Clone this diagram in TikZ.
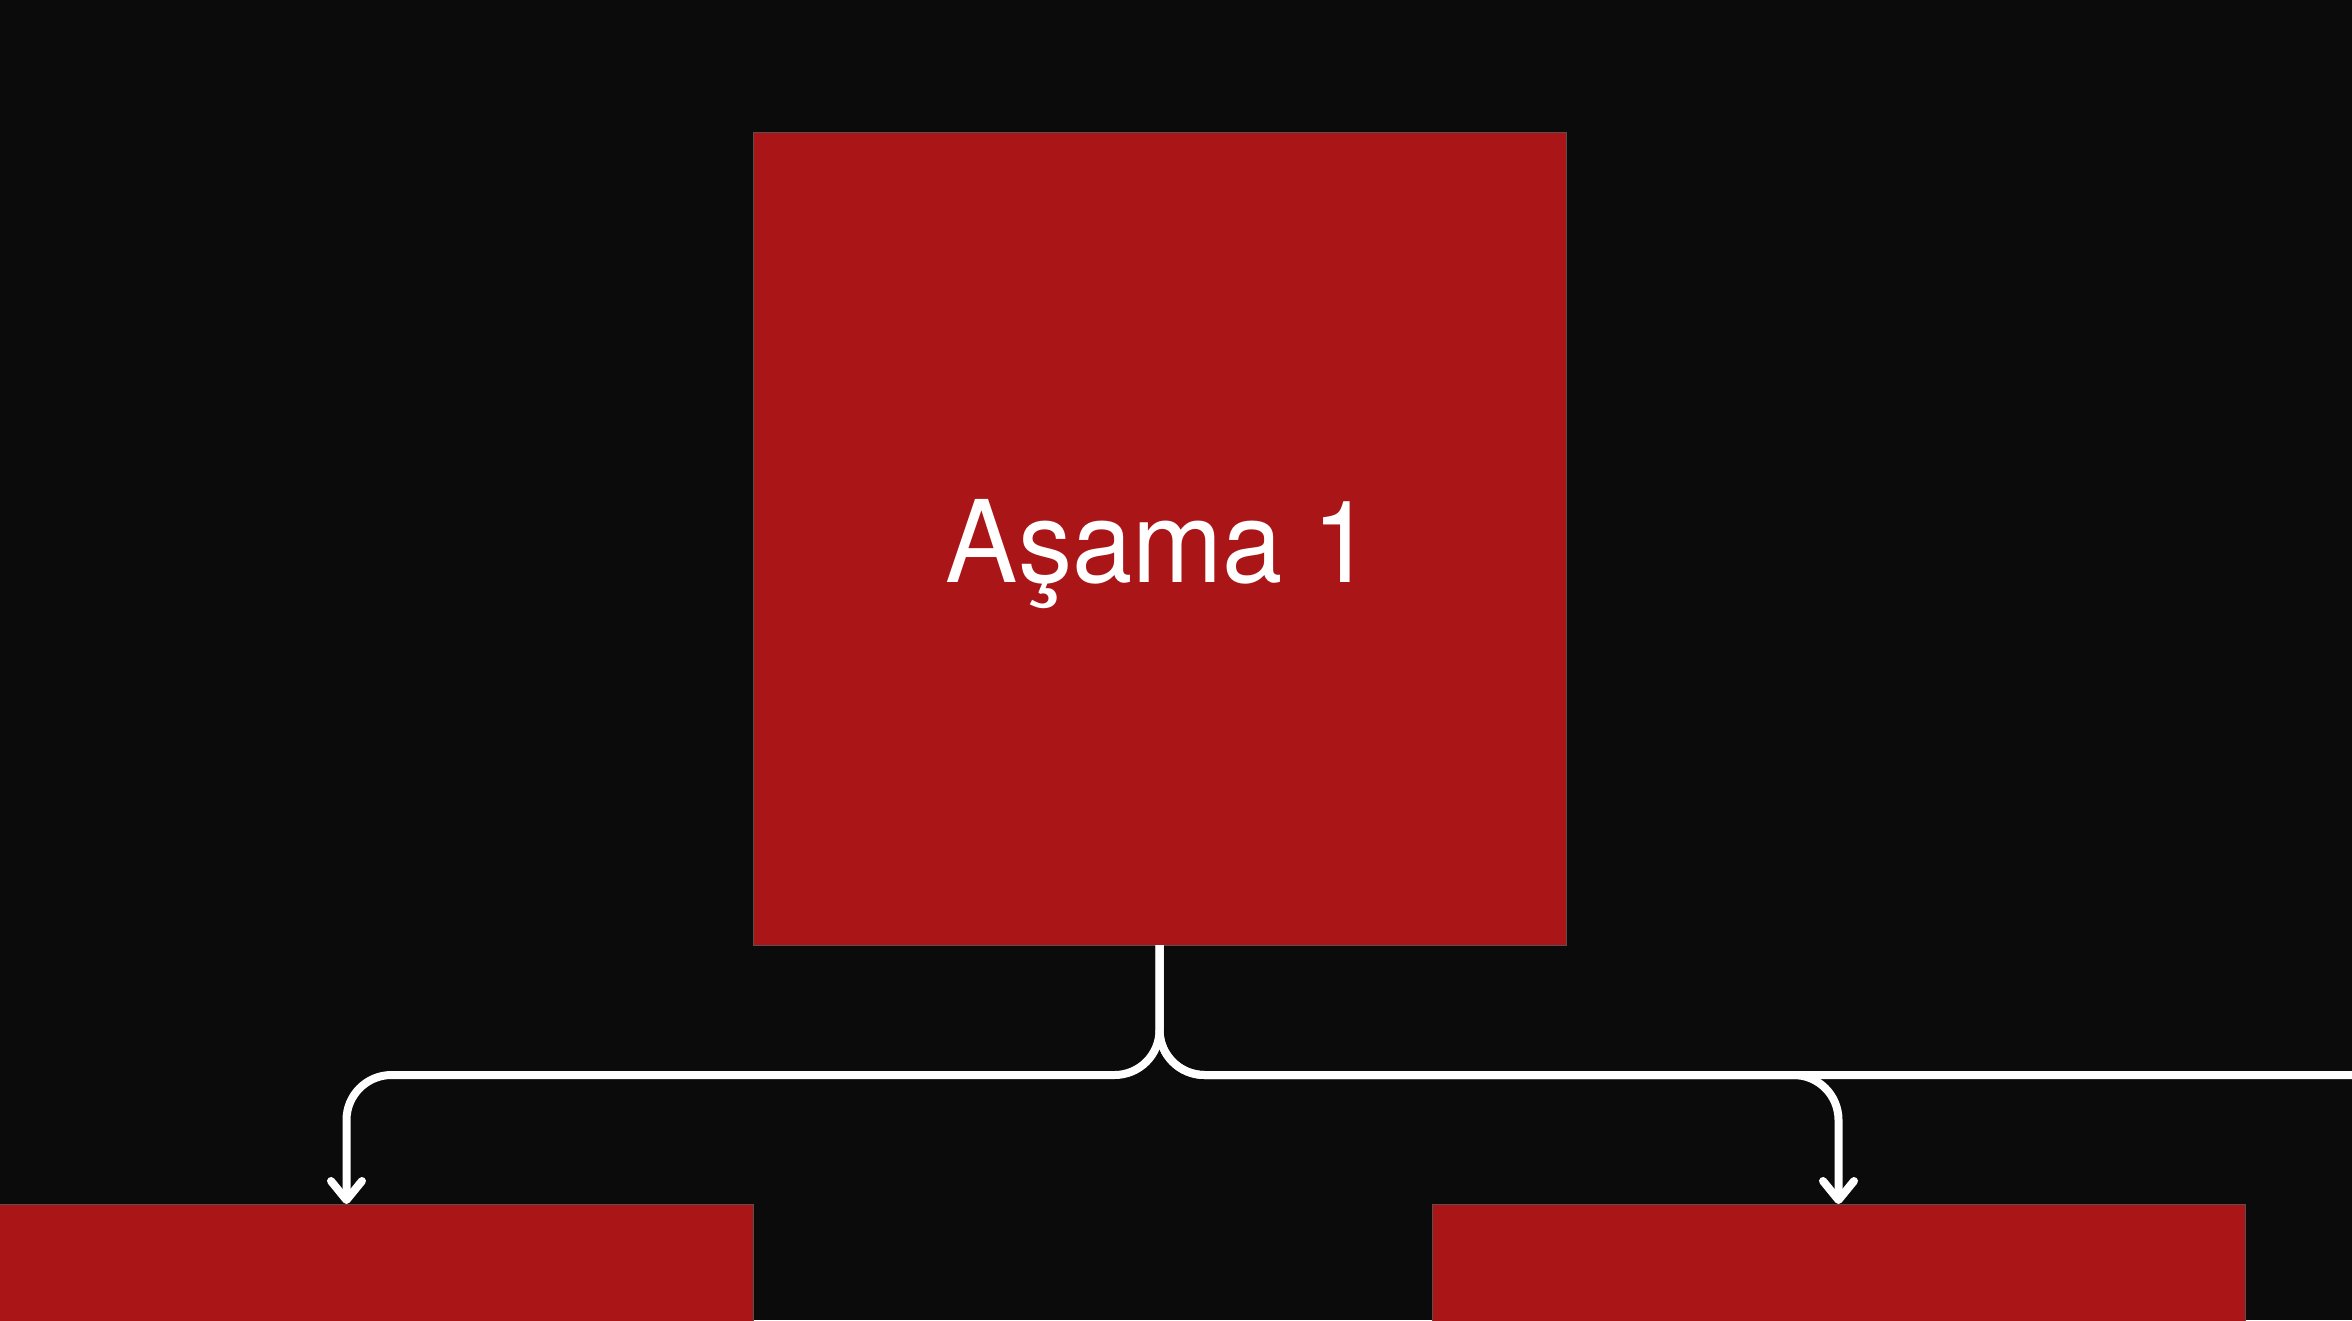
\documentclass[tikz,border=0pt]{standalone}
\usepackage{fontspec}
\setmainfont{TeX Gyre Heros}
\newfontfamily\lblfont[FakeStretch=0.95]{TeX Gyre Heros}
\usetikzlibrary{arrows.meta}
\definecolor{bgc}{RGB}{11,11,11}
\definecolor{boxred}{RGB}{170,22,24}
\definecolor{boxedge}{RGB}{92,78,78}
\tikzset{
  stagebox/.style={rectangle, fill=boxred, draw=boxedge, line width=1pt,
    minimum width=813pt, minimum height=813pt, inner sep=0pt, outer sep=0pt},
  conn/.style={draw=white, line width=8pt, rounded corners=45pt},
  arr/.style={-{Straight Barb[length=19pt,width=31pt,round]}},
  lbl/.style={text=white, font=\lblfont\fontsize{114}{137}\selectfont, inner sep=0pt}
}
\begin{document}
\begin{tikzpicture}[x=1pt,y=-1pt]
\fill[bgc] (0,0) rectangle (2352,1320);
\useasboundingbox (0,0) rectangle (2352,1320);
\clip (0,0) rectangle (2352,1320);
\node[stagebox] (s1) at (1159.5,538.5) {};
\node[stagebox, anchor=north] (s2) at (346.5,1204) {};
\node[stagebox, anchor=north] (s3) at (1838.5,1204) {};
\node[lbl, anchor=base] (t1) at (1159.5,582) {Aşama 1};
\coordinate (offright) at (2400,1075);
\draw[conn] (s1.south) -- (s1.south |- offright) -- (offright);
\draw[conn, arr] (s1.south) -- (s1.south |- offright) -- (s2.north |- offright) -- (s2.north);
\draw[conn, arr] (s1.south) -- (s1.south |- offright) -- (s3.north |- offright) -- (s3.north);
\end{tikzpicture}
\end{document}
